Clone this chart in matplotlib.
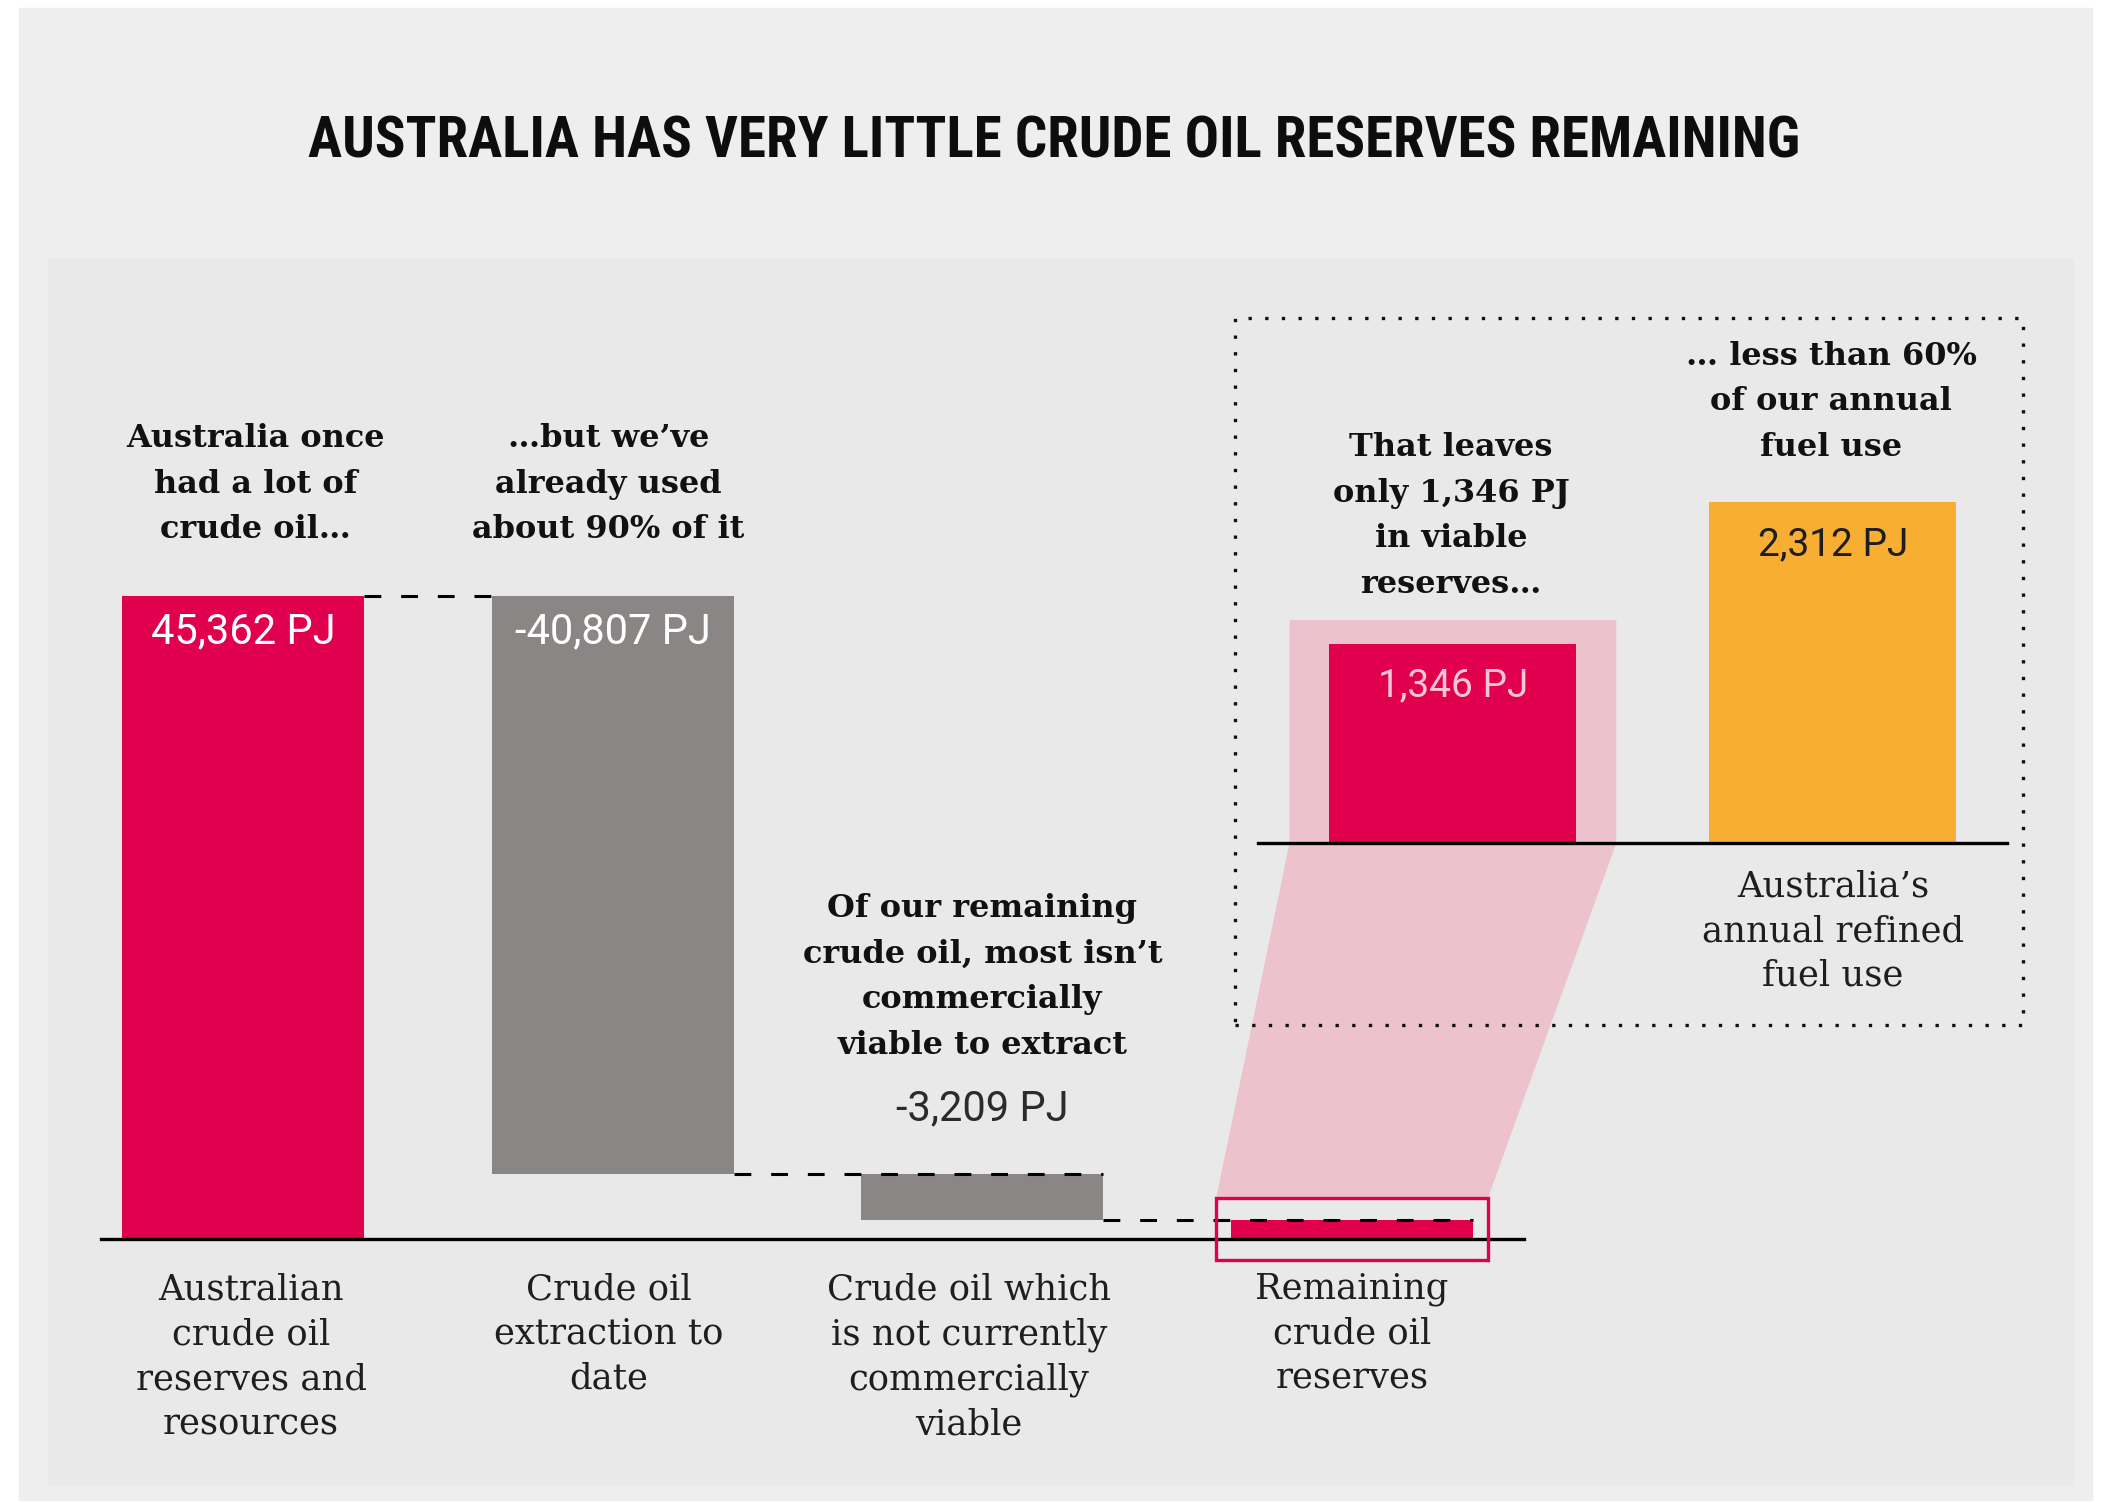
import matplotlib
matplotlib.use("Agg")
import matplotlib.pyplot as plt
import matplotlib.transforms as mtransforms
from matplotlib.patches import Rectangle, Polygon

# Waterfall data (PJ)
categories = ["Australian\ncrude oil\nreserves and\nresources",
              "Crude oil\nextraction to\ndate",
              "Crude oil which\nis not currently\ncommercially\nviable",
              "Remaining\ncrude oil\nreserves"]
changes = [45362, -40807, -3209]
value_labels = ["45,362 PJ", "-40,807 PJ", "-3,209 PJ", "1,346 PJ"]
notes = ["Australia once\nhad a lot of\ncrude oil…",
         "…but we’ve\nalready used\nabout 90% of it",
         "Of our remaining\ncrude oil, most isn’t\ncommercially\nviable to extract"]

# Comparison inset data (PJ)
compare_categories = ["", "Australia’s\nannual refined\nfuel use"]
compare_values = [1346, 2312]
compare_labels = ["1,346 PJ", "2,312 PJ"]
compare_notes = ["That leaves\nonly 1,346 PJ\nin viable\nreserves…",
                 "… less than 60%\nof our annual\nfuel use"]

TITLE = "AUSTRALIA HAS VERY LITTLE CRUDE OIL RESERVES REMAINING"

PINK = "#e1004e"
GREY = "#8a8685"
ORANGE = "#f8ae33"
LIGHT_PINK = "#ecc2cc"
SERIF = ["DejaVu Serif"]

plt.rcParams['font.family'] = ['Roboto', 'DejaVu Sans']

W, H = 2109, 1503


def fx(x):
    return x / W


def fy(y):
    return 1 - y / H


fig = plt.figure(figsize=(W / 100, H / 100), dpi=100)
fig.patch.set_facecolor("white")

# panel backgrounds
fig.add_artist(Rectangle((fx(19), fy(1500)), (2092 - 19) / W, (1500 - 8) / H,
                         transform=fig.transFigure, color="#eeeeee", zorder=-3))
fig.add_artist(Rectangle((fx(48), fy(1485)), (2073 - 48) / W, (1485 - 259) / H,
                         transform=fig.transFigure, color="#e9e9e9", zorder=-2))

fig.text(0.5, fy(142), TITLE, ha="center", va="center", fontsize=41,
         fontweight="bold", color="#0d0d0d",
         family=["Liberation Sans Narrow", "Roboto Condensed", "DejaVu Sans"])

# ---- main waterfall ----
ax = fig.add_axes([fx(101), fy(1239), 1423 / W, 939 / H])
ax.set_xlim(-0.384, 3.465)
ax.set_ylim(0, 66243)
ax.axis("off")
ax.patch.set_alpha(0)

bar_w = 0.655
bottoms, heights, tops = [], [], []
running = 0
for c in changes:
    bottoms.append(min(running, running + c))
    heights.append(abs(c))
    running += c
    tops.append(max(running, running - c))
bottoms.append(0)
heights.append(running)
tops.append(running)
levels = [sum(changes[:i + 1]) for i in range(len(changes))]

xs = list(range(len(categories)))
ax.bar(xs, heights, bottom=bottoms, width=bar_w,
       color=[PINK, GREY, GREY, PINK], zorder=2)
ax.axhline(0, color="black", lw=2.4, clip_on=False, zorder=4)

dash = (0, (5.5, 6.5))
ax.hlines(levels[0], 0 + bar_w / 2, 1 - bar_w / 2, colors="black", lw=2.2,
          linestyles=dash, zorder=3)
ax.hlines(levels[1], 1 + bar_w / 2, 2 + bar_w / 2, colors="black", lw=2.2,
          linestyles=dash, zorder=3)
ax.hlines(levels[2], 2 + bar_w / 2, 3 + bar_w / 2, colors="black", lw=2.2,
          linestyles=dash, zorder=3)

# value labels
for i in range(2):
    ax.annotate(value_labels[i], (xs[i], tops[i]), xytext=(0, -26),
                textcoords="offset points", ha="center", va="center",
                fontsize=30, color="white", zorder=5)
ax.annotate(value_labels[2], (xs[2], tops[2]), xytext=(0, 47.5),
            textcoords="offset points", ha="center", va="center",
            fontsize=30, color="#2b2b2b", zorder=5)

# highlight box around remaining reserves
pad_x, pad_lo, pad_hi = 0.04, 1480, 1550
hx0, hx1 = 3 - bar_w / 2 - pad_x, 3 + bar_w / 2 + pad_x
hy0, hy1 = -pad_lo, heights[3] + pad_hi
ax.add_patch(Rectangle((hx0, hy0), hx1 - hx0, hy1 - hy0, fill=False,
                       edgecolor=PINK, lw=2.4, clip_on=False, zorder=6))

# category labels and notes
bt = mtransforms.blended_transform_factory(ax.transData, fig.transFigure)
label_y = [1357, 1334, 1357, 1334]
label_dx = [0.022, -0.011, -0.036, 0]
for i, lab in enumerate(categories):
    ax.text(xs[i] + label_dx[i], fy(label_y[i]), lab, transform=bt,
            ha="center", va="center", fontsize=25.5, color="#1e1e1e",
            family=SERIF, linespacing=1.4)
note_y = [484, 484, 977]
note_dx = [0.035, -0.011, 0]
for i, n in enumerate(notes):
    ax.text(xs[i] + note_dx[i], fy(note_y[i]), n, transform=bt, ha="center",
            va="center", fontsize=23, fontweight="bold", color="#111111",
            family=SERIF, linespacing=1.6)

# ---- comparison inset ----
axi = fig.add_axes([fx(1258), fy(843), (2007 - 1258) / W, 513 / H])
axi.set_xlim(-0.513, 1.458)
axi.set_ylim(0, 3478)
axi.axis("off")
axi.patch.set_alpha(0)

cx = [0, 1]
axi.bar(cx, compare_values, width=0.65, color=[PINK, ORANGE], zorder=2)
axi.axhline(0, color="black", lw=2.4, clip_on=False, zorder=4)
axi.annotate(compare_labels[0], (cx[0], compare_values[0]), xytext=(0, -30),
             textcoords="offset points", ha="center", va="center",
             fontsize=28, color="#f7c6d4", zorder=5)
axi.annotate(compare_labels[1], (cx[1], compare_values[1]), xytext=(0, -31),
             textcoords="offset points", ha="center", va="center",
             fontsize=28, color="#1e1e1e", zorder=5)

bti = mtransforms.blended_transform_factory(axi.transData, fig.transFigure)
axi.text(cx[1], fy(931), compare_categories[1], transform=bti, ha="center",
         va="center", fontsize=25.5, color="#1e1e1e", family=SERIF,
         linespacing=1.4)
compare_note_y = [516, 402]
for i, n in enumerate(compare_notes):
    axi.text(cx[i] - 0.005, fy(compare_note_y[i]), n, transform=bti,
             ha="center", va="center", fontsize=23, fontweight="bold",
             color="#111111", family=SERIF, linespacing=1.6)

# funnel linking the highlight box to the inset bar
glow_x, glow_top = 0.43, compare_values[0] + 166
to_fig = fig.transFigure.inverted()
pts_disp = [axi.transData.transform((-glow_x, glow_top)),
            axi.transData.transform((glow_x, glow_top)),
            axi.transData.transform((glow_x, 0)),
            ax.transData.transform((hx1, hy1)),
            ax.transData.transform((hx0, hy1)),
            axi.transData.transform((-glow_x, 0))]
pts = to_fig.transform(pts_disp)
fig.add_artist(Polygon(pts, closed=True, transform=fig.transFigure,
                       color=LIGHT_PINK, lw=0, zorder=-1))

# dotted frame around inset
fig.add_artist(Rectangle((fx(1235), fy(1025)), (2023 - 1235) / W, (1025 - 318) / H,
                         transform=fig.transFigure, fill=False,
                         edgecolor="#111111", lw=2.4, linestyle=(0, (1, 4)),
                         zorder=-0.5))

fig.savefig("out.png", dpi=100, facecolor="white")
